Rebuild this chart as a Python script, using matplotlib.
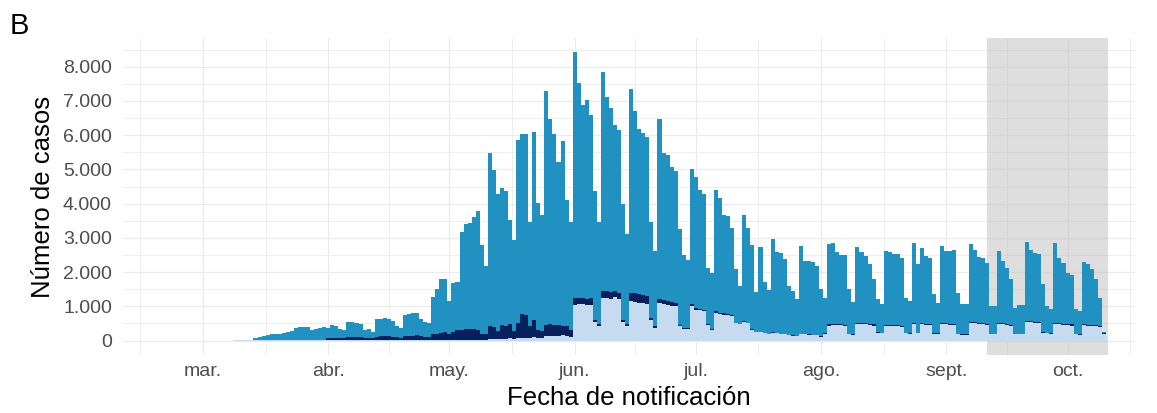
import numpy as np
import pandas as pd
import matplotlib
matplotlib.use("Agg")
import matplotlib.pyplot as plt
from matplotlib.ticker import FuncFormatter, FixedLocator

# casos diarios desde el 9 de marzo hasta el 10 de octubre (altura total de cada barra)
total = np.array([
    10, 15, 15, 20, 30,                                   # 9-13 mar
    80, 100, 130, 160, 190, 200, 200, 210, 240, 280,
    370, 390, 400, 390, 300, 330, 380, 390,               # hasta 31 mar
    370, 450, 440, 330, 300, 550, 530, 500, 480, 300,
    340, 250, 640, 620, 650, 640, 560, 420, 360, 750,
    780, 800, 810, 640, 550, 520, 1280, 1495, 1790, 1810,  # hasta 30 abr
    1160, 1690, 1710, 3160, 3400, 3420, 3600, 3790, 2800, 2180,
    5470, 4970, 4280, 4460, 4360, 3530, 2930, 5850, 6020, 6040,
    3460, 6100, 4020, 3670, 7280, 6480, 6040, 5230, 5820, 4120,
    3470,                                                 # hasta 31 may
    8420, 7510, 6890, 7020, 6580, 4380, 3450,
    7830, 7120, 6790, 6300, 6140, 3990, 3110,
    7340, 6700, 6190, 6070, 5940, 3450, 2620,
    6480, 5480, 5410, 5060, 4940, 3260, 2490,
    2360, 5000,                                           # hasta 30 jun
    4770, 4410, 4280, 2130, 1960,
    4410, 4150, 3670, 3650, 3280, 2080, 1590,
    3680, 3300, 2790, 1420, 2720, 1710, 1480,
    2960, 2600, 2570, 2380, 1590, 1450, 1220,
    2770, 2330, 2330, 2300, 2180,                         # hasta 31 jul
    1510, 1250,
    2815, 2864, 2600, 2493, 2493, 1496, 1124,
    2737, 2590, 2473, 2229, 1788, 1202, 1056,
    2620, 2600, 2542, 2522, 2424, 1251, 1153,
    2864, 2229, 2717, 2473, 2424, 1349, 1104,
    2766, 2620, 2620, 2649, 1398, 1056, 1056,
    2815, 2649, 2454, 2424, 2278, 1007, 1007,
    2620, 2326, 2131, 1789, 958, 1026, 1026,
    2893, 2649, 2571, 2522, 1642, 1007, 909,
    2845, 2424, 2258, 1965, 1906, 909, 860,
    2297, 2229, 2082, 1808, 1251, 250,
])

# capa inferior (azul claro)
claro = np.array([
    10, 15, 15, 20, 30,
    5, 5, 5, 5, 5, 5, 5, 5, 5, 5,
    5, 5, 5, 5, 5, 5, 5, 5,
    5, 5, 5, 5, 5, 5, 5, 5, 5, 5,
    5, 5, 5, 5, 5, 5, 5, 5, 5, 5,
    5, 5, 5, 5, 5, 5, 5, 5, 5, 5,
    20, 20, 20, 20, 20, 20, 20, 20, 20, 20,
    40, 40, 60, 60, 60, 70, 50, 70, 80, 80,
    80, 100, 90, 90, 120, 130, 140, 140, 150, 130,
    100,
    1050, 1060, 1060, 1030, 1050, 540, 430,
    1250, 1240, 1220, 1260, 1200, 550, 440,
    1150, 1130, 1100, 1090, 1070, 600, 380,
    1100, 1080, 1050, 1020, 1000, 420, 340,
    350, 1000,
    900, 880, 860, 460, 320,
    800, 780, 760, 740, 720, 500, 470,
    540, 500, 310, 240, 250, 210, 190,
    230, 210, 190, 180, 150, 140, 130,
    190, 180, 170, 160, 150,
    110, 200,
    440, 450, 460, 450, 430, 180, 170,
    470, 480, 470, 460, 440, 230, 220,
    420, 430, 420, 420, 400, 210, 200,
    470, 220, 470, 460, 450, 200, 200,
    470, 470, 460, 450, 180, 170, 170,
    520, 500, 480, 470, 460, 180, 180,
    480, 470, 450, 430, 180, 180, 180,
    540, 530, 510, 500, 230, 220, 200,
    480, 470, 460, 450, 440, 180, 170,
    450, 430, 420, 420, 400, 200,
])

# capa intermedia (azul oscuro)
oscuro = np.array([
    0, 0, 0, 0, 0,
    10, 10, 12, 15, 15, 15, 15, 15, 20, 20,
    20, 20, 20, 20, 15, 20, 25, 25,
    60, 80, 85, 80, 75, 90, 95, 105, 95, 85,
    85, 75, 105, 115, 115, 125, 105, 95, 85, 125,
    135, 135, 145, 125, 105, 105, 175, 195, 225, 245,
    160, 230, 280, 300, 320, 310, 330, 280, 180, 160,
    380, 360, 220, 390, 360, 400, 230, 450, 700, 670,
    340, 500, 210, 190, 330, 340, 320, 310, 280, 290,
    200,
    200, 190, 190, 170, 180, 60, 40,
    200, 200, 200, 190, 200, 60, 50,
    250, 250, 250, 240, 230, 65, 40,
    100, 100, 100, 100, 100, 30, 30,
    30, 55,
    50, 40, 40, 30, 22,
    50, 40, 40, 40, 40, 20, 20,
    20, 20, 20, 10, 10, 10, 10,
    10, 10, 10, 10, 10, 10, 10,
    10, 10, 10, 10, 10,
    10, 10,
    30, 30, 30, 30, 30, 10, 10,
    30, 30, 30, 30, 30, 10, 10,
    30, 30, 30, 30, 30, 10, 10,
    30, 10, 30, 30, 30, 10, 10,
    30, 30, 30, 30, 10, 10, 10,
    30, 30, 30, 30, 30, 10, 10,
    30, 30, 30, 30, 10, 10, 10,
    30, 30, 30, 30, 10, 10, 10,
    30, 30, 30, 30, 30, 10, 10,
    30, 30, 30, 30, 30, 30,
])

meses = ["mar.", "abr.", "may.", "jun.", "jul.", "ago.", "sept.", "oct."]
sombra = ("2020-09-11", "2020-10-11")

fechas = pd.date_range("2020-03-09", periods=len(total), freq="D")
origen = pd.Timestamp("2020-03-01")
x = (fechas - origen).days.to_numpy()
bordes = np.append(x - 0.5, x[-1] + 0.5)
medio = np.clip(total - claro - oscuro, 0, None)

plt.rcParams['font.family'] = ['Liberation Sans', 'DejaVu Sans']

fig = plt.figure(figsize=(11.57, 4.13), dpi=100)
ax = fig.add_axes([123 / 1157, 1 - 355 / 413, (1135 - 123) / 1157, (355 - 38) / 413])

s0 = (pd.Timestamp(sombra[0]) - origen).days
s1 = (pd.Timestamp(sombra[1]) - origen).days
ax.axvspan(s0, s1, color="#bebebe", alpha=0.5, lw=0, zorder=1)

ax.stairs(claro, bordes, baseline=0, fill=True, color="#c6dbef", lw=0, zorder=2)
ax.stairs(claro + oscuro, bordes, baseline=claro, fill=True, color="#08215c", lw=0, zorder=2)
ax.stairs(claro + oscuro + medio, bordes, baseline=claro + oscuro, fill=True,
          color="#2191c1", lw=0, zorder=2)

# ejes
inicios = pd.date_range("2020-03-01", "2020-10-01", freq="MS")
mayores = (inicios - origen).days.to_numpy().astype(float)
medios = (mayores[:-1] + mayores[1:]) / 2
menores = np.concatenate([[-15.5], medios, [229.5]])
ax.xaxis.set_major_locator(FixedLocator(mayores))
ax.xaxis.set_minor_locator(FixedLocator(menores))
ax.set_xticklabels(meses)
ax.yaxis.set_major_locator(FixedLocator(np.arange(0, 8001, 1000)))
ax.yaxis.set_minor_locator(FixedLocator(np.arange(500, 8501, 1000)))
ax.yaxis.set_major_formatter(FuncFormatter(lambda v, p: f"{int(v):,}".replace(",", ".")))

ax.set_xlim(-19.8, 230.7)
ax.set_ylim(-421, 8837)

ax.grid(which="major", color="#ebebeb", lw=0.9, zorder=0)
ax.grid(which="minor", color="#ebebeb", lw=0.6, zorder=0)
ax.set_axisbelow(True)
for sp in ax.spines.values():
    sp.set_visible(False)
ax.tick_params(which="both", length=0, labelsize=14, labelcolor="#4d4d4d")
ax.tick_params(axis="x", pad=6)
ax.tick_params(axis="y", pad=8)

ax.set_xlabel("Fecha de notificación", fontsize=18.5, labelpad=4)
ax.set_ylabel("Número de casos", fontsize=18.5, labelpad=6)
fig.text(10 / 1157, 1 - 12 / 413, "B", fontsize=21, va="top", ha="left")

fig.savefig("out.png", dpi=100)
